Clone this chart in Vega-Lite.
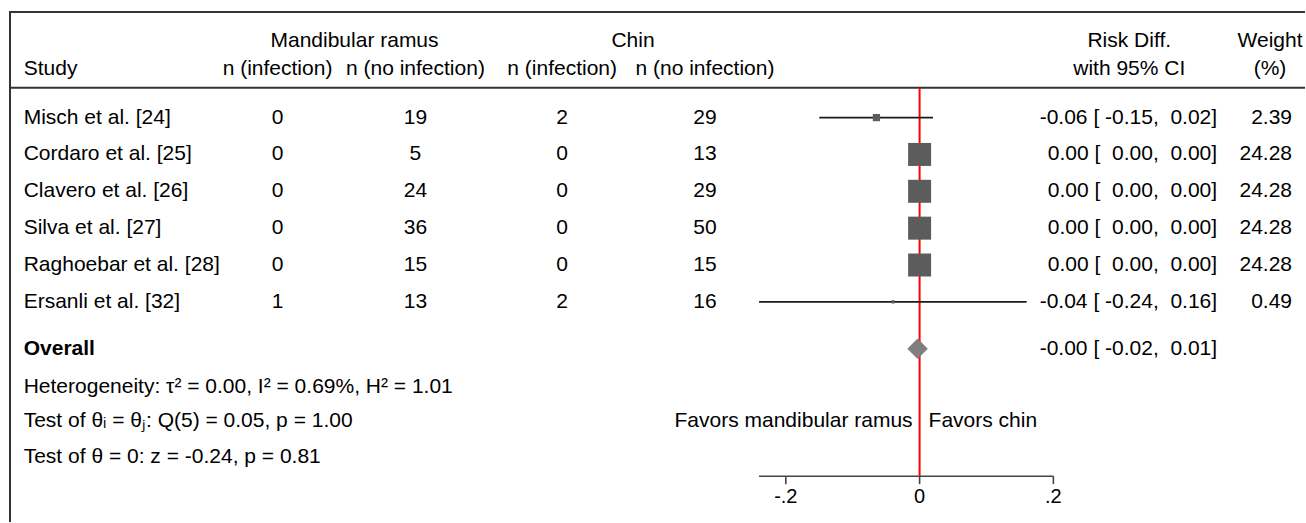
{
  "$schema": "https://vega.github.io/schema/vega-lite/v6.json",
  "width": 1306,
  "height": 523,
  "autosize": {"type": "fit", "contains": "padding"},
  "padding": {"left": 8, "top": 10, "right": 0, "bottom": 0},
  "background": "white",
  "config": {
    "view": {"stroke": null},
    "font": "Liberation Sans",
    "text": {"font": "Liberation Sans", "fontSize": 21, "color": "#000000", "baseline": "middle"}
  },
  "datasets": {
    "studies": [
      {"study": "Misch et al. [24]", "row": 1, "ri": 0, "rn": 19, "ci": 2, "cn": 29, "rd": -0.0645, "lo": -0.15, "hi": 0.02, "rd_label": "-0.06 [ -0.15,\u00a0\u00a00.02]", "weight": 2.39},
      {"study": "Cordaro et al. [25]", "row": 2, "ri": 0, "rn": 5, "ci": 0, "cn": 13, "rd": 0, "lo": 0, "hi": 0, "rd_label": "0.00 [\u00a0\u00a00.00,\u00a0\u00a00.00]", "weight": 24.28},
      {"study": "Clavero et al. [26]", "row": 3, "ri": 0, "rn": 24, "ci": 0, "cn": 29, "rd": 0, "lo": 0, "hi": 0, "rd_label": "0.00 [\u00a0\u00a00.00,\u00a0\u00a00.00]", "weight": 24.28},
      {"study": "Silva et al. [27]", "row": 4, "ri": 0, "rn": 36, "ci": 0, "cn": 50, "rd": 0, "lo": 0, "hi": 0, "rd_label": "0.00 [\u00a0\u00a00.00,\u00a0\u00a00.00]", "weight": 24.28},
      {"study": "Raghoebar et al. [28]", "row": 5, "ri": 0, "rn": 15, "ci": 0, "cn": 15, "rd": 0, "lo": 0, "hi": 0, "rd_label": "0.00 [\u00a0\u00a00.00,\u00a0\u00a00.00]", "weight": 24.28},
      {"study": "Ersanli et al. [32]", "row": 6, "ri": 1, "rn": 13, "ci": 2, "cn": 16, "rd": -0.0397, "lo": -0.24, "hi": 0.16, "rd_label": "-0.04 [ -0.24,\u00a0\u00a00.16]", "weight": 0.49}
    ],
    "overall": [
      {"label": "Overall", "rd": -0.003, "lo": -0.02, "hi": 0.01, "rd_label": "-0.00 [ -0.02,\u00a0\u00a00.01]"}
    ],
    "ticks": [
      {"v": -0.2, "label": "-.2"},
      {"v": 0, "label": "0"},
      {"v": 0.2, "label": ".2"}
    ],
    "axisrange": [{"from": -0.24, "to": 0.2}],
    "one": [{}]
  },
  "resolve": {"scale": {"x": "independent"}},
  "layer": [
    {
      "data": {"name": "one"},
      "mark": {"type": "rule", "color": "#333333", "strokeWidth": 2},
      "encoding": {"x": {"datum": 0.077, "type": "quantitative", "scale": {"domain": [0, 100]}, "axis": null}}
    },
    {
      "data": {"name": "one"},
      "mark": {"type": "rule", "color": "#333333", "strokeWidth": 2},
      "encoding": {"y": {"datum": -1.8649, "type": "quantitative", "scale": {"domain": [-1.891892, 11.972973], "reverse": true}, "axis": null}}
    },
    {
      "data": {"name": "one"},
      "mark": {"type": "rule", "color": "#333333", "strokeWidth": 2},
      "encoding": {"y": {"datum": 0.1892, "type": "quantitative", "scale": {"domain": [-1.891892, 11.972973], "reverse": true}, "axis": null}}
    },
    {
      "data": {"name": "axisrange"},
      "mark": {"type": "rule", "color": "#444444", "strokeWidth": 1.6},
      "encoding": {
        "x": {"field": "from", "type": "quantitative", "scale": {"domain": [-1.361194, 0.576119]}, "axis": null},
        "x2": {"field": "to"},
        "y": {"datum": 10.73, "type": "quantitative", "scale": {"domain": [-1.891892, 11.972973], "reverse": true}, "axis": null}
      }
    },
    {
      "data": {"name": "ticks"},
      "mark": {"type": "rule", "color": "#444444", "strokeWidth": 1.6},
      "encoding": {
        "x": {"field": "v", "type": "quantitative", "scale": {"domain": [-1.361194, 0.576119]}, "axis": null},
        "y": {"datum": 10.73, "type": "quantitative", "scale": {"domain": [-1.891892, 11.972973], "reverse": true}, "axis": null},
        "y2": {"datum": 10.946}
      }
    },
    {
      "data": {"name": "ticks"},
      "mark": {"type": "text", "fontSize": 20, "align": "center"},
      "encoding": {
        "x": {"field": "v", "type": "quantitative", "scale": {"domain": [-1.361194, 0.576119]}, "axis": null},
        "y": {"datum": 11.297, "type": "quantitative", "scale": {"domain": [-1.891892, 11.972973], "reverse": true}, "axis": null},
        "text": {"field": "label"}
      }
    },
    {
      "data": {"name": "one"},
      "mark": {"type": "rule", "color": "#ff0000", "strokeWidth": 2},
      "encoding": {
        "x": {"datum": 0, "type": "quantitative", "scale": {"domain": [-1.361194, 0.576119]}, "axis": null},
        "y": {"datum": 0.1892, "type": "quantitative", "scale": {"domain": [-1.891892, 11.972973], "reverse": true}, "axis": null},
        "y2": {"datum": 10.73}
      }
    },
    {
      "data": {"name": "studies"},
      "mark": {"type": "rule", "color": "#1a1a1a", "strokeWidth": 1.8},
      "encoding": {
        "x": {"field": "lo", "type": "quantitative", "scale": {"domain": [-1.361194, 0.576119]}, "axis": null},
        "x2": {"field": "hi"},
        "y": {"field": "row", "type": "quantitative", "scale": {"domain": [-1.891892, 11.972973], "reverse": true}, "axis": null}
      }
    },
    {
      "data": {"name": "studies"},
      "mark": {"type": "square", "filled": true, "color": "#5c5c5c", "opacity": 1},
      "encoding": {
        "x": {"field": "rd", "type": "quantitative", "scale": {"domain": [-1.361194, 0.576119]}, "axis": null},
        "y": {"field": "row", "type": "quantitative", "scale": {"domain": [-1.891892, 11.972973], "reverse": true}, "axis": null},
        "size": {"field": "weight", "type": "quantitative", "scale": {"domain": [0, 24.28], "range": [0, 529]}, "legend": null}
      }
    },
    {
      "data": {"name": "overall"},
      "mark": {"type": "point", "shape": "diamond", "filled": true, "color": "#7f7f7f", "opacity": 1, "size": 420},
      "encoding": {
        "x": {"field": "rd", "type": "quantitative", "scale": {"domain": [-1.361194, 0.576119]}, "axis": null},
        "y": {"datum": 7.27, "type": "quantitative", "scale": {"domain": [-1.891892, 11.972973], "reverse": true}, "axis": null}
      }
    },
    {
      "data": {"name": "studies"},
      "mark": {"type": "text", "align": "left"},
      "encoding": {
        "x": {"datum": 1.133, "type": "quantitative", "scale": {"domain": [0, 100]}, "axis": null},
        "y": {"field": "row", "type": "quantitative", "scale": {"domain": [-1.891892, 11.972973], "reverse": true}, "axis": null},
        "text": {"field": "study"}
      }
    },
    {
      "data": {"name": "studies"},
      "mark": {"type": "text", "align": "center"},
      "encoding": {
        "x": {"datum": 20.72, "type": "quantitative", "scale": {"domain": [0, 100]}, "axis": null},
        "y": {"field": "row", "type": "quantitative", "scale": {"domain": [-1.891892, 11.972973], "reverse": true}, "axis": null},
        "text": {"field": "ri"}
      }
    },
    {
      "data": {"name": "studies"},
      "mark": {"type": "text", "align": "center"},
      "encoding": {
        "x": {"datum": 31.36, "type": "quantitative", "scale": {"domain": [0, 100]}, "axis": null},
        "y": {"field": "row", "type": "quantitative", "scale": {"domain": [-1.891892, 11.972973], "reverse": true}, "axis": null},
        "text": {"field": "rn"}
      }
    },
    {
      "data": {"name": "studies"},
      "mark": {"type": "text", "align": "center"},
      "encoding": {
        "x": {"datum": 42.68, "type": "quantitative", "scale": {"domain": [0, 100]}, "axis": null},
        "y": {"field": "row", "type": "quantitative", "scale": {"domain": [-1.891892, 11.972973], "reverse": true}, "axis": null},
        "text": {"field": "ci"}
      }
    },
    {
      "data": {"name": "studies"},
      "mark": {"type": "text", "align": "center"},
      "encoding": {
        "x": {"datum": 53.7, "type": "quantitative", "scale": {"domain": [0, 100]}, "axis": null},
        "y": {"field": "row", "type": "quantitative", "scale": {"domain": [-1.891892, 11.972973], "reverse": true}, "axis": null},
        "text": {"field": "cn"}
      }
    },
    {
      "data": {"name": "studies"},
      "mark": {"type": "text", "align": "right"},
      "encoding": {
        "x": {"datum": 93.22, "type": "quantitative", "scale": {"domain": [0, 100]}, "axis": null},
        "y": {"field": "row", "type": "quantitative", "scale": {"domain": [-1.891892, 11.972973], "reverse": true}, "axis": null},
        "text": {"field": "rd_label"}
      }
    },
    {
      "data": {"name": "studies"},
      "mark": {"type": "text", "align": "right"},
      "encoding": {
        "x": {"datum": 99.0, "type": "quantitative", "scale": {"domain": [0, 100]}, "axis": null},
        "y": {"field": "row", "type": "quantitative", "scale": {"domain": [-1.891892, 11.972973], "reverse": true}, "axis": null},
        "text": {"field": "weight", "format": ".2f"}
      }
    },
    {
      "data": {"name": "overall"},
      "mark": {"type": "text", "align": "left", "fontWeight": "bold"},
      "encoding": {
        "x": {"datum": 1.133, "type": "quantitative", "scale": {"domain": [0, 100]}, "axis": null},
        "y": {"datum": 7.27, "type": "quantitative", "scale": {"domain": [-1.891892, 11.972973], "reverse": true}, "axis": null},
        "text": {"field": "label"}
      }
    },
    {
      "data": {"name": "overall"},
      "mark": {"type": "text", "align": "right"},
      "encoding": {
        "x": {"datum": 93.22, "type": "quantitative", "scale": {"domain": [0, 100]}, "axis": null},
        "y": {"datum": 7.27, "type": "quantitative", "scale": {"domain": [-1.891892, 11.972973], "reverse": true}, "axis": null},
        "text": {"field": "rd_label"}
      }
    },
    {
      "data": {"values": [{"t": "Study"}]},
      "mark": {"type": "text", "align": "left"},
      "encoding": {
        "x": {"datum": 1.133, "type": "quantitative", "scale": {"domain": [0, 100]}, "axis": null},
        "y": {"datum": -0.324, "type": "quantitative", "scale": {"domain": [-1.891892, 11.972973], "reverse": true}, "axis": null},
        "text": {"field": "t"}
      }
    },
    {
      "data": {"values": [{"t": "Mandibular ramus"}]},
      "mark": {"type": "text", "align": "center"},
      "encoding": {
        "x": {"datum": 26.66, "type": "quantitative", "scale": {"domain": [0, 100]}, "axis": null},
        "y": {"datum": -1.081, "type": "quantitative", "scale": {"domain": [-1.891892, 11.972973], "reverse": true}, "axis": null},
        "text": {"field": "t"}
      }
    },
    {
      "data": {"values": [{"t": "n (infection)"}]},
      "mark": {"type": "text", "align": "center"},
      "encoding": {
        "x": {"datum": 20.72, "type": "quantitative", "scale": {"domain": [0, 100]}, "axis": null},
        "y": {"datum": -0.324, "type": "quantitative", "scale": {"domain": [-1.891892, 11.972973], "reverse": true}, "axis": null},
        "text": {"field": "t"}
      }
    },
    {
      "data": {"values": [{"t": "n (no infection)"}]},
      "mark": {"type": "text", "align": "center"},
      "encoding": {
        "x": {"datum": 31.36, "type": "quantitative", "scale": {"domain": [0, 100]}, "axis": null},
        "y": {"datum": -0.324, "type": "quantitative", "scale": {"domain": [-1.891892, 11.972973], "reverse": true}, "axis": null},
        "text": {"field": "t"}
      }
    },
    {
      "data": {"values": [{"t": "Chin"}]},
      "mark": {"type": "text", "align": "center"},
      "encoding": {
        "x": {"datum": 48.15, "type": "quantitative", "scale": {"domain": [0, 100]}, "axis": null},
        "y": {"datum": -1.081, "type": "quantitative", "scale": {"domain": [-1.891892, 11.972973], "reverse": true}, "axis": null},
        "text": {"field": "t"}
      }
    },
    {
      "data": {"values": [{"t": "n (infection)"}]},
      "mark": {"type": "text", "align": "center"},
      "encoding": {
        "x": {"datum": 42.68, "type": "quantitative", "scale": {"domain": [0, 100]}, "axis": null},
        "y": {"datum": -0.324, "type": "quantitative", "scale": {"domain": [-1.891892, 11.972973], "reverse": true}, "axis": null},
        "text": {"field": "t"}
      }
    },
    {
      "data": {"values": [{"t": "n (no infection)"}]},
      "mark": {"type": "text", "align": "center"},
      "encoding": {
        "x": {"datum": 53.7, "type": "quantitative", "scale": {"domain": [0, 100]}, "axis": null},
        "y": {"datum": -0.324, "type": "quantitative", "scale": {"domain": [-1.891892, 11.972973], "reverse": true}, "axis": null},
        "text": {"field": "t"}
      }
    },
    {
      "data": {"values": [{"t": "Risk Diff."}]},
      "mark": {"type": "text", "align": "center"},
      "encoding": {
        "x": {"datum": 86.44, "type": "quantitative", "scale": {"domain": [0, 100]}, "axis": null},
        "y": {"datum": -1.081, "type": "quantitative", "scale": {"domain": [-1.891892, 11.972973], "reverse": true}, "axis": null},
        "text": {"field": "t"}
      }
    },
    {
      "data": {"values": [{"t": "with 95% CI"}]},
      "mark": {"type": "text", "align": "center"},
      "encoding": {
        "x": {"datum": 86.44, "type": "quantitative", "scale": {"domain": [0, 100]}, "axis": null},
        "y": {"datum": -0.324, "type": "quantitative", "scale": {"domain": [-1.891892, 11.972973], "reverse": true}, "axis": null},
        "text": {"field": "t"}
      }
    },
    {
      "data": {"values": [{"t": "Weight"}]},
      "mark": {"type": "text", "align": "center"},
      "encoding": {
        "x": {"datum": 97.3, "type": "quantitative", "scale": {"domain": [0, 100]}, "axis": null},
        "y": {"datum": -1.081, "type": "quantitative", "scale": {"domain": [-1.891892, 11.972973], "reverse": true}, "axis": null},
        "text": {"field": "t"}
      }
    },
    {
      "data": {"values": [{"t": "(%)"}]},
      "mark": {"type": "text", "align": "center"},
      "encoding": {
        "x": {"datum": 97.3, "type": "quantitative", "scale": {"domain": [0, 100]}, "axis": null},
        "y": {"datum": -0.324, "type": "quantitative", "scale": {"domain": [-1.891892, 11.972973], "reverse": true}, "axis": null},
        "text": {"field": "t"}
      }
    },
    {
      "data": {"values": [{"t": "Heterogeneity: τ² = 0.00, I² = 0.69%, H² = 1.01"}]},
      "mark": {"type": "text", "align": "left"},
      "encoding": {
        "x": {"datum": 1.133, "type": "quantitative", "scale": {"domain": [0, 100]}, "axis": null},
        "y": {"datum": 8.297, "type": "quantitative", "scale": {"domain": [-1.891892, 11.972973], "reverse": true}, "axis": null},
        "text": {"field": "t"}
      }
    },
    {
      "data": {"values": [{"t": "Test of θᵢ = θⱼ: Q(5) = 0.05, p = 1.00"}]},
      "mark": {"type": "text", "align": "left"},
      "encoding": {
        "x": {"datum": 1.133, "type": "quantitative", "scale": {"domain": [0, 100]}, "axis": null},
        "y": {"datum": 9.243, "type": "quantitative", "scale": {"domain": [-1.891892, 11.972973], "reverse": true}, "axis": null},
        "text": {"field": "t"}
      }
    },
    {
      "data": {"values": [{"t": "Test of θ = 0: z = -0.24, p = 0.81"}]},
      "mark": {"type": "text", "align": "left"},
      "encoding": {
        "x": {"datum": 1.133, "type": "quantitative", "scale": {"domain": [0, 100]}, "axis": null},
        "y": {"datum": 10.216, "type": "quantitative", "scale": {"domain": [-1.891892, 11.972973], "reverse": true}, "axis": null},
        "text": {"field": "t"}
      }
    },
    {
      "data": {"values": [{"t": "Favors mandibular ramus"}]},
      "mark": {"type": "text", "align": "right", "dx": -7},
      "encoding": {
        "x": {"datum": 0, "type": "quantitative", "scale": {"domain": [-1.361194, 0.576119]}, "axis": null},
        "y": {"datum": 9.243, "type": "quantitative", "scale": {"domain": [-1.891892, 11.972973], "reverse": true}, "axis": null},
        "text": {"field": "t"}
      }
    },
    {
      "data": {"values": [{"t": "Favors chin"}]},
      "mark": {"type": "text", "align": "left", "dx": 9},
      "encoding": {
        "x": {"datum": 0, "type": "quantitative", "scale": {"domain": [-1.361194, 0.576119]}, "axis": null},
        "y": {"datum": 9.243, "type": "quantitative", "scale": {"domain": [-1.891892, 11.972973], "reverse": true}, "axis": null},
        "text": {"field": "t"}
      }
    }
  ]
}
